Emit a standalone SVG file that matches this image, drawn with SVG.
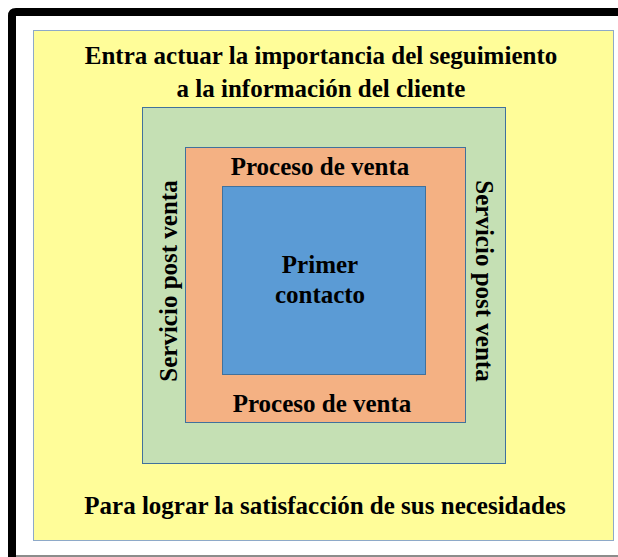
<svg xmlns="http://www.w3.org/2000/svg" width="618" height="557" viewBox="0 0 618 557">
<style>
.t{font-family:"Liberation Serif","Times New Roman",serif;font-weight:bold;font-size:25px;fill:#000;text-anchor:middle}
.box{stroke-width:1}
</style>
<rect x="0" y="0" width="618" height="557" fill="#ffffff"/>
<g id="frame">
<path d="M12 557 V16 Q12 12 16 12 H618" fill="none" stroke="#000" stroke-width="8"/>
<line x1="16" y1="556" x2="618" y2="556" stroke="#8c8c8c" stroke-width="2"/>
</g>
<g id="outer">
<rect class="box" x="33.5" y="30.5" width="580" height="510" fill="#FFFD99" stroke="#8EA9C8"/>
<text class="t" x="321" y="64">Entra actuar la importancia del seguimiento</text>
<text class="t" x="321" y="97">a la información del cliente</text>
<text class="t" x="325" y="514">Para lograr la satisfacción de sus necesidades</text>
</g>
<g id="post-venta">
<rect class="box" x="142.5" y="107.5" width="363" height="356" fill="#C5E0B4" stroke="#41719C"/>
<text class="t" transform="translate(177 281) rotate(-90)">Servicio post venta</text>
<text class="t" transform="translate(476 281) rotate(90)">Servicio post venta</text>
</g>
<g id="proceso-venta">
<rect class="box" x="185.5" y="147.5" width="280" height="275" fill="#F4B183" stroke="#41719C"/>
<text class="t" x="320" y="175">Proceso de venta</text>
<text class="t" x="322" y="412">Proceso de venta</text>
</g>
<g id="primer-contacto">
<rect class="box" x="222.5" y="186.5" width="203" height="188" fill="#5B9BD5" stroke="#41719C"/>
<text class="t" x="320" y="273">Primer</text>
<text class="t" x="320" y="303">contacto</text>
</g>
</svg>
